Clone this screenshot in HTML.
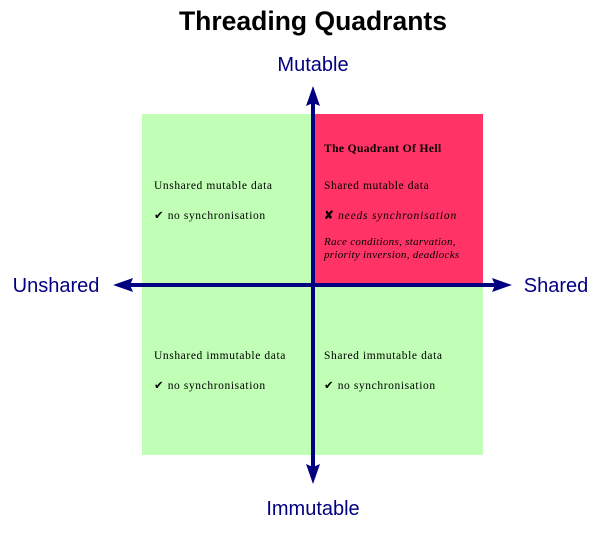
<!DOCTYPE html>
<html><head><style>body{margin:0;background:#fff}</style></head><body>
<svg width="602" height="528" xmlns="http://www.w3.org/2000/svg">
<rect x="142" y="114" width="341" height="341" fill="#c0ffb5"/>
<rect x="313" y="114" width="170" height="171" fill="#ff3366"/>
<text x="313" y="30" text-anchor="middle" font-family="Liberation Sans, sans-serif" font-weight="bold" font-size="26.5">Threading Quadrants</text>
<g font-family="Liberation Sans, sans-serif" font-size="20" fill="#000080">
<text x="313" y="71" text-anchor="middle">Mutable</text>
<text x="313" y="515" text-anchor="middle">Immutable</text>
<text x="56" y="292" text-anchor="middle">Unshared</text>
<text x="556" y="292" text-anchor="middle">Shared</text>
</g>
<g stroke="#000080" stroke-width="4" fill="none">
<line x1="313" y1="100" x2="313" y2="470"/>
<line x1="128" y1="285" x2="498" y2="285"/>
</g>
<g fill="#000080">
<polygon points="313,86 306,106 313,103 320,106"/>
<polygon points="313,484 306,464 313,467 320,464"/>
<polygon points="113,285 133,278 130,285 133,292"/>
<polygon points="512,285 492,278 495,285 492,292"/>
</g>
<g font-family="Liberation Serif, serif" font-size="11.5" fill="#000" letter-spacing="0.6">
<text x="324" y="152" font-weight="bold" letter-spacing="0.4">The Quadrant Of Hell</text>
<text x="324" y="189">Shared mutable data</text>
<text x="324" y="219" font-style="italic" letter-spacing="0.8"><tspan font-style="normal" font-weight="bold">✘</tspan> needs synchronisation</text>
<text x="324" y="245" font-style="italic" font-size="11" letter-spacing="0.3">Race conditions, starvation,</text>
<text x="324" y="258" font-style="italic" font-size="11" letter-spacing="0.3">priority inversion, deadlocks</text>
<text x="154" y="189">Unshared mutable data</text>
<text x="154" y="219">✔ no synchronisation</text>
<text x="154" y="359">Unshared immutable data</text>
<text x="154" y="389">✔ no synchronisation</text>
<text x="324" y="359">Shared immutable data</text>
<text x="324" y="389">✔ no synchronisation</text>
</g>
</svg>
</body></html>
